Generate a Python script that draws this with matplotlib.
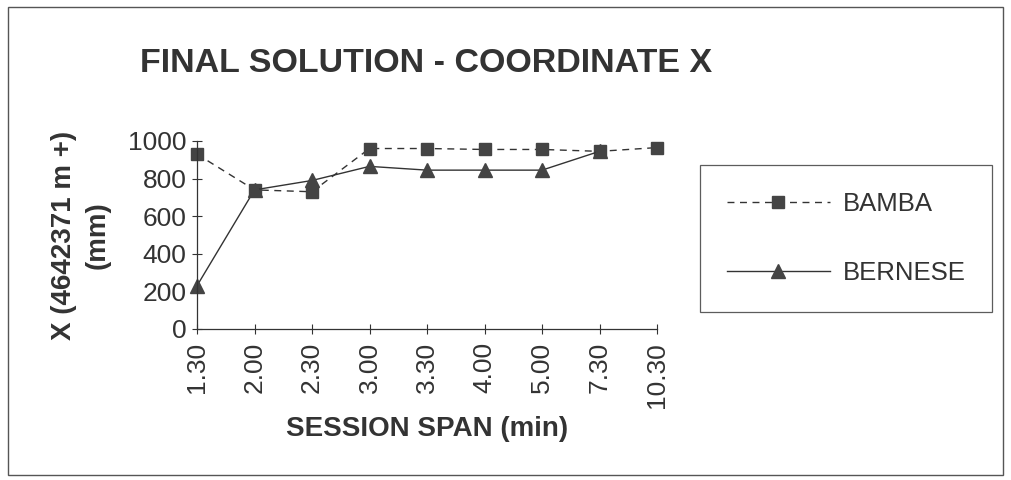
import numpy as np
import matplotlib
matplotlib.use("Agg")
import matplotlib.pyplot as plt
from matplotlib.patches import Rectangle

plt.rcParams['font.family'] = ['Liberation Sans', 'DejaVu Sans']

sessions = ['1.30', '2.00', '2.30', '3.00', '3.30', '4.00', '5.00', '7.30', '10.30']
bamba = [930, 740, 730, 960, 960, 955, 955, 945, 965]
bernese = [230, 740, 790, 865, 845, 845, 845, 945, np.nan]

ink = '#333333'

fig = plt.figure(figsize=(10.11, 4.8), dpi=100)
ax = fig.add_axes([197 / 1011, 1 - 329 / 480, 460 / 1011, 188 / 480])

x = np.arange(len(sessions))
ax.plot(x, bamba, linestyle=(0, (5, 4)), color=ink, linewidth=1,
        marker='s', markersize=9, markerfacecolor='#444444', markeredgecolor='#444444',
        label='BAMBA', clip_on=False)
ax.plot(x, bernese, linestyle='-', color=ink, linewidth=1,
        marker='^', markersize=9.5, markerfacecolor='#444444', markeredgecolor='#444444',
        label='BERNESE', clip_on=False)

ax.set_xlim(0, len(sessions) - 1)
ax.set_ylim(0, 1000)
ax.set_yticks([0, 200, 400, 600, 800, 1000])
ax.set_xticks(x)
ax.set_xticklabels(sessions, rotation=90)
for s in ['top', 'right']:
    ax.spines[s].set_visible(False)
for s in ['left', 'bottom']:
    ax.spines[s].set_color(ink)
    ax.spines[s].set_linewidth(0.9)
ax.tick_params(axis='both', direction='inout', length=7, width=0.8, color=ink,
               labelcolor=ink)
ax.tick_params(axis='y', labelsize=19, pad=4)
ax.tick_params(axis='x', labelsize=19, pad=6)

ax.set_xlabel('SESSION SPAN (min)', fontsize=20, fontweight='bold', color=ink,
              labelpad=6)
fig.text(64 / 1011, 1 - 235 / 480, 'X (4642371 m +)', rotation=90, ha='center',
         va='center', fontsize=20, fontweight='bold', color=ink)
fig.text(98 / 1011, 1 - 235 / 480, '(mm)', rotation=90, ha='center',
         va='center', fontsize=20, fontweight='bold', color=ink)

fig.text(426 / 1011, 1 - 63 / 480, 'FINAL SOLUTION - COORDINATE X', ha='center',
         va='center', fontsize=24.5, fontweight='bold', color=ink)

leg = fig.legend(loc='upper left', bbox_to_anchor=(700 / 1011, 1 - 165 / 480),
                 fontsize=18.5, frameon=True, fancybox=False, edgecolor=ink,
                 handlelength=4.0, borderpad=1.05, labelspacing=1.75,
                 handletextpad=0.5, borderaxespad=0)
leg.get_frame().set_linewidth(0.9)
for t in leg.get_texts():
    t.set_color(ink)

fig.patches.append(Rectangle((8 / 1011, 1 - 475 / 480), 995 / 1011, 468 / 480,
                             transform=fig.transFigure, fill=False,
                             edgecolor='#555555', linewidth=1))

fig.savefig('out.png', dpi=100)
